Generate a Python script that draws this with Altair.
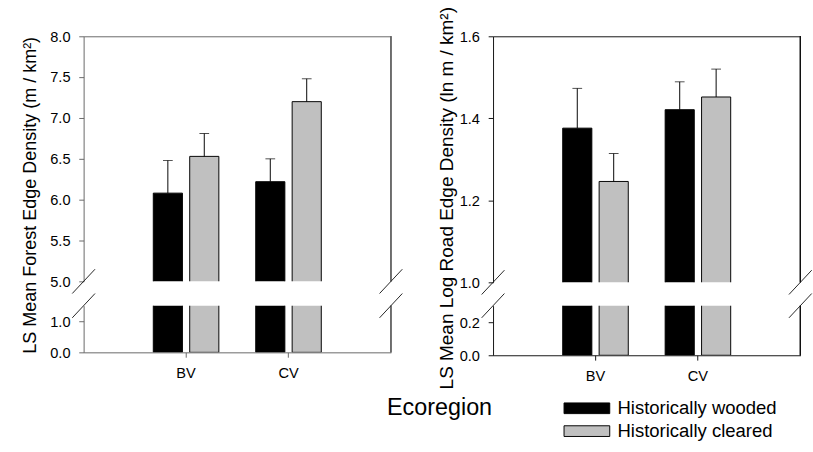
import altair as alt
import pandas as pd

regions = ["BV", "CV"]
series = ["Historically wooded", "Historically cleared"]
fills = ["#000000", "#c0c0c0"]

# LS means and upper standard-error limits, forest edge density (m / km2)
forest_wooded = [6.08, 6.22]
forest_wooded_hi = [6.48, 6.50]
forest_cleared = [6.53, 7.20]
forest_cleared_hi = [6.81, 7.48]

# LS means and upper standard-error limits, log road edge density (ln m / km2)
road_wooded = [1.376, 1.421]
road_wooded_hi = [1.473, 1.489]
road_cleared = [1.246, 1.452]
road_cleared_hi = [1.314, 1.520]

FONT = "Arial, Liberation Sans"
W = 316


def table(wooded, wooded_hi, cleared, cleared_hi):
    rows = []
    for i, r in enumerate(regions):
        rows.append({"region": r, "series": series[0], "mean": wooded[i], "hi": wooded_hi[i]})
        rows.append({"region": r, "series": series[1], "mean": cleared[i], "hi": cleared_hi[i]})
    return pd.DataFrame(rows)


def segment(df, domain, ticks, height, upper, frame, title=None, title_size=18,
            title_x=-45, title_y=163, extras=()):
    lo, hi = domain
    xscale = alt.Scale(domain=regions, paddingInner=0.36, paddingOuter=0.68)
    if upper:
        xaxis = alt.Axis(orient="top", labels=False, ticks=False, title=None,
                         domainColor=frame, domainWidth=1)
    else:
        xaxis = alt.Axis(orient="bottom", labelAngle=0, title=None, tickSize=5,
                         tickColor=frame, domainColor=frame, labelPadding=9,
                         labelFontSize=15, labelColor="black", labelFont=FONT)
    X = alt.X("region:N", scale=xscale, axis=xaxis, sort=regions)
    XO = alt.XOffset("series:N", scale=alt.Scale(domain=series, paddingInner=0.2), sort=series)
    yaxis_kw = dict(values=ticks, format=".1f", tickSize=5, tickColor=frame,
                    domainColor=frame, labelPadding=9, labelFontSize=15,
                    labelColor="black", labelFont=FONT, grid=False)
    if title:
        yaxis_kw.update(title=title, titleFontSize=title_size, titleFontWeight="normal",
                        titleFont=FONT, titleColor="black", titleAngle=270,
                        titleAlign="center", titleBaseline="bottom",
                        titleX=title_x, titleY=title_y)
    else:
        yaxis_kw.update(title=None)
    yscale = alt.Scale(domain=[lo, hi], zero=False, nice=False)
    yaxis = alt.Axis(**yaxis_kw)
    Y = alt.Y("mean:Q", scale=yscale, axis=yaxis)

    base = alt.Chart(df)
    bars = base.mark_bar(stroke="black", strokeWidth=1, clip=True).encode(
        x=X, xOffset=XO, y=Y,
        color=alt.Color("series:N", scale=alt.Scale(domain=series, range=fills), legend=None),
    )
    layers = [bars]
    if upper:
        err = base.mark_rule(color="black", strokeWidth=1).encode(
            x=X, xOffset=XO, y=Y, y2="hi:Q")
        caps = base.mark_tick(color="black", orient="horizontal", size=10, thickness=1).encode(
            x=X, xOffset=XO, y=alt.Y("hi:Q", scale=yscale, axis=yaxis))
        layers += [err, caps]
        edge = lo
    else:
        edge = hi

    # right-hand border of the frame
    layers.append(base.mark_rule(color=frame, strokeWidth=1).encode(
        x=alt.value(W), y=alt.value(0), y2=alt.value(height)))

    # axis-break slashes on both sides
    one = alt.Chart(pd.DataFrame({"k": [0]}))
    for xc in (0, W):
        layers.append(one.mark_rule(color="#222222", strokeWidth=1,
                                    yOffset=12.5, y2Offset=-12.5).encode(
            x=alt.value(xc - 11.7), x2=alt.value(xc + 11.7),
            y=alt.datum(edge, scale=yscale, axis=yaxis), y2=alt.datum(edge)))
    layers += list(extras)
    return alt.layer(*layers).properties(width=W, height=height)


forest = table(forest_wooded, forest_wooded_hi, forest_cleared, forest_cleared_hi)
road = table(road_wooded, road_wooded_hi, road_cleared, road_cleared_hi)

one = alt.Chart(pd.DataFrame({"k": [0]}))
ecoregion = one.mark_text(text="Ecoregion", fontSize=24, font=FONT, color="black",
                          align="center", baseline="middle").encode(
    x=alt.value(366), y=alt.value(105))

legend_layers = []
for i, name in enumerate(series):
    legend_layers.append(one.mark_rect(fill=fills[i], stroke="black", strokeWidth=1).encode(
        x=alt.value(73), x2=alt.value(120),
        y=alt.value(100 + 23.5 * i), y2=alt.value(111 + 23.5 * i)))
    legend_layers.append(one.mark_text(text=name, fontSize=19, font=FONT, color="black",
                                       align="left", baseline="middle").encode(
        x=alt.value(128), y=alt.value(105.5 + 23.5 * i)))

lu = segment(forest, (5.0, 8.0), [5.0, 5.5, 6.0, 6.5, 7.0, 7.5, 8.0], 252, True, "#666666",
             title="LS Mean Forest Edge Density (m / km\u00b2)", title_size=18.5,
             title_x=-45, title_y=163)
ll = segment(forest, (0.0, 1.5), [0.0, 1.0], 48, False, "#666666", extras=[ecoregion])
ru = segment(road, (1.0, 1.6), [1.0, 1.2, 1.4, 1.6], 253, True, "#111111",
             title="LS Mean Log Road Edge Density (ln m / km\u00b2)", title_size=19.5,
             title_x=-38, title_y=166)
rl = segment(road, (0.0, 0.3), [0.0, 0.2], 51, False, "#111111", extras=legend_layers)

chart = alt.concat(lu, ru, ll, rl, columns=2, spacing={"row": 24, "column": 105},
                   bounds="flush").properties(
    padding={"left": 21, "top": 0, "right": 0, "bottom": 0},
    background="white",
).configure_view(stroke=None)

chart.save("out.html", embed_options={"renderer": "svg", "actions": False})
